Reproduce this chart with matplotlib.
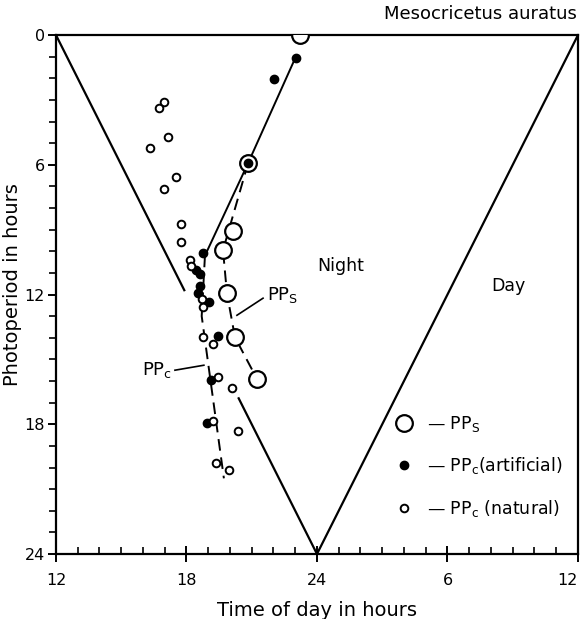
import matplotlib
matplotlib.use('Agg')
import matplotlib.pyplot as plt
from matplotlib.ticker import MultipleLocator, FixedLocator
from matplotlib.lines import Line2D

plt.rcParams['font.family'] = ['DejaVu Sans']
plt.rcParams['mathtext.default'] = 'regular'

# time of day runs 12 -> 36 (i.e. noon to next noon), photoperiod in hours
# PPs (large open circles)
pps_time = [23.22, 20.83, 20.14, 19.68, 19.86, 20.23, 21.24]
pps_photo = [0.0, 5.93, 9.07, 9.95, 11.94, 13.98, 15.9]

# PPc, artificial light (filled dots)
art_time = [23.03, 22.02, 20.83, 18.76, 18.44, 18.62, 18.62, 18.53, 19.03, 19.45, 19.13, 18.94]
art_photo = [1.06, 2.04, 5.93, 10.1, 10.88, 11.06, 11.6, 11.94, 12.36, 13.94, 15.97, 17.96]

# PPc, natural light (small open circles)
nat_time = [16.97, 16.74, 17.15, 16.32, 17.52, 16.97, 17.75, 17.75, 18.16, 18.21,
            18.71, 18.76, 18.76, 19.22, 19.45, 20.09, 19.22, 20.37, 19.36, 19.95]
nat_photo = [3.1, 3.38, 4.72, 5.23, 6.57, 7.13, 8.75, 9.58, 10.42, 10.69,
             12.22, 12.59, 13.98, 14.31, 15.83, 16.3, 17.87, 18.33, 19.8, 20.1]

# hand drawn fit lines
ppc_solid_t = [23.03, 20.83, 18.85]
ppc_solid_p = [1.0, 5.93, 10.2]
ppc_dash_t = [18.85, 18.7, 19.72]
ppc_dash_p = [10.2, 13.0, 20.5]
pps_dash_t = [20.83, 19.68, 19.86, 20.23, 21.24]
pps_dash_p = [5.93, 9.95, 11.94, 13.98, 15.9]

# lights-off line has a gap where the points sit
gap_from, gap_to = 11.8, 16.8

xtick_pos = [12, 18, 24, 30, 36]
xtick_lab = ['12', '18', '24', '6', '12']
ytick_pos = [0, 6, 12, 18, 24]

fig = plt.figure(figsize=(5.83, 6.19), dpi=100)
ax = fig.add_axes([0.096, 0.105, 0.8954, 0.8384])

lw = 1.6
# night / day boundaries
ax.plot([12, 12 + gap_from / 2], [0, gap_from], color='k', lw=lw)
ax.plot([12 + gap_to / 2, 24], [gap_to, 24], color='k', lw=lw)
ax.plot([24, 36], [24, 0], color='k', lw=lw)

ax.plot(ppc_solid_t, ppc_solid_p, color='k', lw=1.4)
ax.plot(ppc_dash_t, ppc_dash_p, color='k', lw=1.4, dashes=(6, 3.5))
ax.plot(pps_dash_t, pps_dash_p, color='k', lw=1.4, dashes=(6, 3.5))

ax.plot(pps_time, pps_photo, 'o', ms=12, mfc='white', mec='k', mew=1.6, ls='none', zorder=3)
ax.plot(art_time, art_photo, 'o', ms=6, mfc='k', mec='k', ls='none', zorder=4)
ax.plot(nat_time, nat_photo, 'o', ms=5.5, mfc='white', mec='k', mew=1.4, ls='none', zorder=5)

# labels on the curves
ax.plot([20.32, 21.52], [12.96, 12.17], color='k', lw=1.2)
ax.text(21.7, 12.0, 'PP$_S$', fontsize=13, va='center', ha='left')
ax.plot([17.47, 18.8], [15.5, 15.27], color='k', lw=1.2)
ax.text(17.35, 15.5, 'PP$_c$', fontsize=13, va='center', ha='right')

ax.text(25.1, 10.7, 'Night', fontsize=12.5, ha='center', va='center')
ax.text(32.8, 11.6, 'Day', fontsize=12.5, ha='center', va='center')

handles = [
    Line2D([], [], marker='o', ms=12, mfc='white', mec='k', mew=1.6, ls='none'),
    Line2D([], [], marker='o', ms=6, mfc='k', mec='k', ls='none'),
    Line2D([], [], marker='o', ms=5.5, mfc='white', mec='k', mew=1.4, ls='none'),
]
labels = ['— PP$_S$', '— PP$_c$(artificial)', '— PP$_c$ (natural)']
ax.legend(handles, labels, loc='lower right', bbox_to_anchor=(1.0, 0.037),
          frameon=False, fontsize=12.5, handlelength=0.8, handletextpad=0.9,
          labelspacing=1.25)

ax.set_xlim(12, 36)
ax.set_ylim(24, 0)
ax.xaxis.set_major_locator(FixedLocator(xtick_pos))
ax.set_xticklabels(xtick_lab)
ax.get_xticklabels()[-1].set_ha('right')
ax.yaxis.set_major_locator(FixedLocator(ytick_pos))
ax.xaxis.set_minor_locator(MultipleLocator(1))
ax.yaxis.set_minor_locator(MultipleLocator(1))
ax.tick_params(axis='x', which='major', direction='inout', length=12, width=1.4, labelsize=11.5, pad=8)
ax.tick_params(axis='x', which='minor', direction='in', length=5, width=1.2)
ax.tick_params(axis='y', which='major', direction='out', length=6, width=1.4, labelsize=11.5, pad=2)
ax.tick_params(axis='y', which='minor', direction='out', length=5, width=1.2)
for s in ax.spines.values():
    s.set_linewidth(1.6)

ax.set_xlabel('Time of day in hours', fontsize=14, labelpad=9)
ax.set_ylabel('Photoperiod in hours', fontsize=14)
ax.yaxis.set_label_coords(-0.065, 0.52)

fig.text(0.99, 0.977, 'Mesocricetus auratus', fontsize=13, ha='right', va='center')

fig.savefig('out.png', dpi=100)
